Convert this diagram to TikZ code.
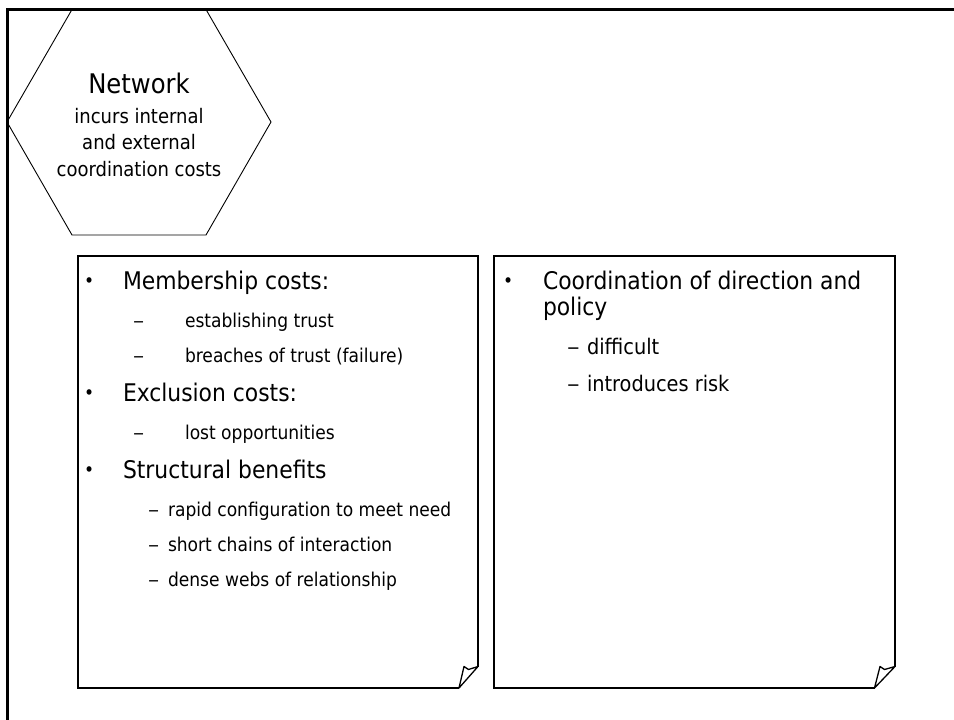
\documentclass[tikz,border=0pt]{standalone}
\usepackage{fontspec}
\setmainfont{DejaVu Sans Condensed}
\newcommand{\itemdash}{\scalebox{1.3}[1]{–}}
\begin{document}
\begin{tikzpicture}[x=1pt,y=-1pt,
  frame/.style={line width=2.6pt},
  hexline/.style={line width=0.9pt},
  sheet/.style={line width=2pt, line join=miter},
  flap/.style={line width=1.3pt, line join=round},
  txt/.style={anchor=base west, inner sep=0pt, outer sep=0pt},
  dot/.style={txt, font=\fontsize{19}{22}\selectfont},
  head/.style={txt, font=\fontsize{24.3}{28}\selectfont},
  subl/.style={txt, font=\fontsize{19}{22}\selectfont},
  subr/.style={txt, font=\fontsize{21.5}{25}\selectfont},
  hexbig/.style={anchor=base, inner sep=0pt, font=\fontsize{27}{31}\selectfont},
  hexsmall/.style={anchor=base, inner sep=0pt, font=\fontsize{20}{24}\selectfont}]
\useasboundingbox (0,0) rectangle (954,720);
\fill[white] (0,0) rectangle (954,720);

% outer frame (left and top edges)
\draw[frame] (7.5,720) -- (7.5,9.5) -- (954,9.5);

% hexagon title
\draw[hexline] (72,9.5) -- (206,9.5) -- (271,122) -- (206,235) -- (72,235) -- (7,122) -- cycle;
\node[hexbig] (net) at (139,93) {Network};
\node[hexsmall] (net1) at (139,123) {incurs internal};
\node[hexsmall] (net2) at (139,149.5) {and external};
\node[hexsmall] (net3) at (139,176) {coordination costs};

% left sheet with curled corner
\draw[sheet] (459,688) -- (77.5,688) -- (77.5,256) -- (478,256) -- (478,667);
\draw[flap] (459,688) -- (464,666.5) -- (468.5,669.5) -- (478,666.5) -- cycle;

% right sheet with curled corner
\draw[sheet] (874.5,688) -- (494,688) -- (494,256) -- (895,256) -- (895,667);
\draw[flap] (874.5,688) -- (880,666.5) -- (884.5,669.5) -- (895,666.5) -- cycle;

% left sheet contents
\node[dot]  (b1) at (84,287) {•};
\node[head] (m)  at (123,289) {Membership costs:};
\node[subl] (d1) at (133,327) {\itemdash};
\node[subl] (m1) at (185,327) {establishing trust};
\node[subl] (d2) at (133,362) {\itemdash};
\node[subl] (m2) at (185,362) {breaches of trust (failure)};
\node[dot]  (b2) at (84,399) {•};
\node[head] (e)  at (123,401) {Exclusion costs:};
\node[subl] (d3) at (133,439) {\itemdash};
\node[subl] (e1) at (185,439) {lost opportunities};
\node[dot]  (b3) at (84,476) {•};
\node[head] (s)  at (123,478) {Structural benefits};
\node[subl] (d4) at (148,516) {\itemdash};
\node[subl] (s1) at (168,516) {rapid configuration to meet need};
\node[subl] (d5) at (148,551) {\itemdash};
\node[subl] (s2) at (168,551) {short chains of interaction};
\node[subl] (d6) at (148,586) {\itemdash};
\node[subl] (s3) at (168,586) {dense webs of relationship};

% right sheet contents
\node[dot]  (b4) at (503,287) {•};
\node[head] (c)  at (543,289) {Coordination of direction and};
\node[head] (c0) at (543,315) {policy};
\node[subr] (d7) at (567,354) {\itemdash};
\node[subr] (c1) at (587,354) {difficult};
\node[subr] (d8) at (567,391) {\itemdash};
\node[subr] (c2) at (587,391) {introduces risk};
\end{tikzpicture}
\end{document}
